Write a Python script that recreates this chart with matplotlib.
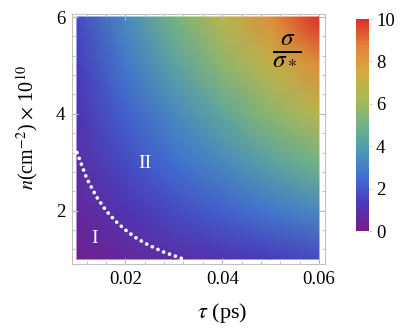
import numpy as np
import matplotlib
matplotlib.use("Agg")
import matplotlib.pyplot as plt
from matplotlib.colors import LinearSegmentedColormap
from matplotlib.ticker import AutoMinorLocator

# valores
tau = [0.01, 0.02, 0.03, 0.04, 0.05, 0.06]
n = [1, 2, 3, 4, 5, 6]
sigma = [
    [0.28, 0.56, 0.83, 1.1, 1.4, 1.7],
    [0.56, 1.1, 1.7, 2.2, 2.8, 3.3],
    [0.83, 1.7, 2.5, 3.3, 4.2, 5.0],
    [1.1, 2.2, 3.3, 4.4, 5.6, 6.7],
    [1.4, 2.8, 4.2, 5.6, 6.9, 8.3],
    [1.7, 3.3, 5.0, 6.7, 8.3, 10.0],
]

# frontera entre regiones I y II (linea punteada)
tau_b = [0.010, 0.012, 0.014, 0.016, 0.018, 0.020, 0.022, 0.024, 0.026, 0.028, 0.030, 0.032]
n_b = [3.2, 2.67, 2.29, 2.0, 1.78, 1.6, 1.45, 1.33, 1.23, 1.14, 1.07, 1.0]

cbar_ticks = [0, 2, 4, 6, 8, 10]

# mapa de colores tipo "Rainbow"
colores = ["#781c86", "#4a37b8", "#3f6fd2", "#4d98b6", "#72b383",
           "#a9ba55", "#d6ab3e", "#e3803a", "#dc2f27"]
cmap = LinearSegmentedColormap.from_list("rainbow_m", colores)

plt.rcParams['font.family'] = ['Liberation Serif', 'DejaVu Serif']
plt.rcParams['mathtext.fontset'] = 'stix'

fig = plt.figure(figsize=(4.07, 3.30), dpi=100)
ax = fig.add_axes([72/407, 66/330, 253/407, 250/330])

T, N = np.meshgrid(tau, n)
im = ax.pcolormesh(T, N, np.array(sigma), cmap=cmap, vmin=0, vmax=10,
                   shading='gouraud', rasterized=True)

ax.plot(tau_b, n_b, color='white', lw=2.7, linestyle=(0, (0.01, 1.65)),
        dash_capstyle='round', solid_capstyle='round')

ax.text(0.0137, 1.42, "I", color='white', fontsize=14, ha='center', va='center')
ax.text(0.024, 2.98, "II", color='white', fontsize=14, ha='center', va='center')
ax.text(0.0534, 5.32, r'$\frac{\sigma}{\sigma_*}$', fontsize=26, ha='center', va='center')

ax.set_xlim(0.00897, 0.06124)
ax.set_ylim(0.897, 6.062)
ax.set_xticks([0.02, 0.04, 0.06])
ax.set_xticklabels(["0.02", "0.04", "0.06"])
ax.set_yticks([2, 4, 6])
ax.xaxis.set_minor_locator(AutoMinorLocator(5))
ax.yaxis.set_minor_locator(AutoMinorLocator(5))
ax.tick_params(which='both', direction='in', top=True, right=True,
               color='#b8b8b8', labelsize=13.5, pad=5)
ax.tick_params(which='major', length=4)
ax.tick_params(which='minor', length=2)
for s in ax.spines.values():
    s.set_color('#c0c0c0')
    s.set_linewidth(0.8)

fig.text(222/407, 1 - 313/330, r'$\tau$ (ps)', fontsize=16, ha='center', va='center')
fig.text(27/407, 1 - 127/330, r'$n$(cm$^{-2}$) $\times$ 10$^{10}$', fontsize=14.5,
         ha='center', va='center', rotation=90)

cax = fig.add_axes([356/407, 99/330, 13/407, 212/330])
cb = fig.colorbar(im, cax=cax, ticks=cbar_ticks)
cb.outline.set_visible(False)
cax.tick_params(length=2, color='#d0d0d0', labelsize=13.5, pad=3)

fig.savefig("out.png", dpi=100)
